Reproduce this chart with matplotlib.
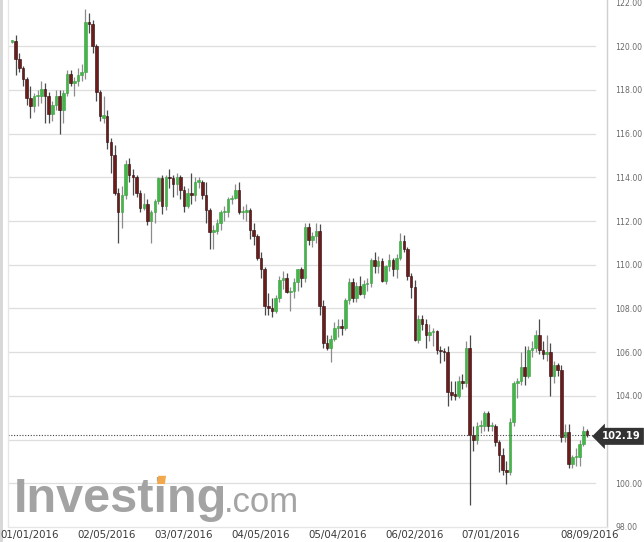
import matplotlib
matplotlib.use("Agg")
import matplotlib.pyplot as plt
import matplotlib.transforms as mtransforms
from matplotlib.patches import Rectangle, Polygon
import numpy as np

# ---- data: daily USD/JPY candles, 01/01/2016 .. 08/09/2016 ----
opens = [120.20, 120.22, 119.40, 119.00, 118.50, 117.65, 117.25, 117.70, 117.70, 118.05,
         117.70, 116.90, 117.30, 117.70, 117.10, 117.85, 118.75, 118.30, 118.40, 118.70,
         118.80, 121.10, 121.00, 120.00, 117.90, 116.70, 116.80, 115.60, 115.00, 113.30,
         112.40, 113.20, 114.60, 114.10, 114.00, 113.30, 112.60, 112.80, 112.00, 112.40,
         112.90, 113.95, 112.70, 114.00, 113.95, 113.70, 114.00, 113.40, 112.70, 113.30,
         113.20, 113.80, 113.80, 113.20, 112.50, 111.50, 111.55, 111.90, 112.40, 112.40,
         113.00, 113.05, 113.40, 112.40, 112.40, 112.50, 111.60, 111.30, 110.30, 109.80,
         108.10, 108.00, 107.90, 108.50, 109.30, 109.40, 108.75, 108.80, 109.20, 109.80,
         109.40, 111.75, 111.15, 111.30, 111.55, 108.10, 106.40, 106.20, 106.60, 107.10,
         107.20, 107.10, 108.40, 109.20, 108.50, 109.05, 108.65, 109.10, 109.15, 110.20,
         109.95, 110.15, 109.25, 109.95, 110.20, 109.80, 110.30, 111.10, 110.70, 109.50,
         109.00, 106.55, 107.50, 107.30, 106.80, 106.90, 106.95, 106.10, 106.05, 106.00,
         104.20, 104.05, 104.00, 104.70, 104.60, 106.20, 102.20, 102.00, 102.60, 102.60,
         103.20, 102.60, 102.60, 101.90, 101.30, 100.60, 100.50, 102.80, 104.60, 104.70,
         105.30, 104.90, 106.10, 106.20, 106.80, 106.10, 105.90, 106.00, 104.90, 105.40,
         105.20, 102.10, 102.35, 100.90, 101.20, 101.20, 101.80, 102.40]
highs = [120.30, 120.50, 119.70, 119.10, 118.60, 118.20, 117.85, 118.00, 118.40, 118.30,
         117.90, 117.50, 118.00, 118.00, 118.00, 118.90, 118.90, 118.60, 119.00, 119.20,
         121.70, 121.50, 121.20, 120.10, 118.00, 117.70, 117.10, 115.80, 115.50, 113.50,
         113.60, 114.80, 114.90, 114.40, 114.10, 113.40, 113.30, 113.00, 112.50, 113.00,
         114.00, 114.10, 114.10, 114.40, 114.10, 114.20, 114.10, 113.60, 113.50, 114.20,
         114.00, 114.00, 113.90, 113.80, 112.60, 111.80, 112.10, 112.50, 112.70, 113.10,
         113.20, 113.70, 113.80, 112.70, 112.80, 112.60, 111.90, 111.40, 110.60, 109.90,
         108.70, 108.50, 108.60, 109.50, 109.70, 109.60, 109.00, 109.40, 109.80, 109.90,
         111.90, 111.90, 111.50, 111.90, 111.85, 108.40, 106.80, 106.80, 107.40, 107.50,
         107.50, 108.50, 109.40, 109.40, 109.20, 109.50, 109.30, 109.40, 110.30, 110.60,
         110.40, 110.30, 110.00, 110.50, 110.30, 110.50, 111.45, 111.35, 110.80, 109.60,
         109.30, 107.70, 107.70, 107.50, 107.30, 107.10, 107.00, 106.30, 106.20, 106.30,
         104.70, 104.70, 104.90, 105.00, 106.50, 106.80, 102.60, 102.80, 102.90, 103.30,
         103.30, 102.80, 102.70, 102.00, 101.60, 101.00, 103.00, 104.70, 104.80, 106.00,
         106.30, 106.30, 106.50, 107.00, 107.50, 106.50, 106.80, 106.40, 105.60, 105.50,
         105.40, 102.70, 102.70, 101.30, 101.60, 102.00, 102.60, 102.50]
lows = [120.15, 118.70, 118.80, 118.20, 117.30, 116.70, 117.00, 117.25, 117.40, 116.50,
        116.50, 116.60, 117.10, 115.98, 116.50, 117.70, 118.20, 117.70, 118.20, 118.40,
        118.50, 120.60, 119.70, 117.50, 116.60, 116.50, 115.30, 114.20, 113.20, 110.99,
        111.70, 113.00, 113.80, 113.20, 113.10, 112.40, 112.50, 111.80, 110.99, 111.90,
        112.80, 112.30, 112.50, 113.50, 113.10, 113.20, 113.00, 112.40, 112.60, 112.80,
        112.90, 113.50, 113.00, 111.90, 110.70, 110.70, 111.40, 111.60, 112.00, 112.20,
        112.80, 113.00, 112.30, 112.10, 112.00, 111.20, 110.90, 110.20, 109.40, 107.70,
        107.70, 107.60, 107.80, 108.30, 108.90, 108.70, 107.90, 108.50, 108.80, 109.00,
        109.20, 110.90, 110.80, 111.00, 107.70, 106.20, 106.10, 105.55, 106.50, 106.70,
        106.80, 107.00, 108.20, 108.30, 108.30, 108.60, 108.50, 108.80, 109.00, 109.60,
        109.60, 109.20, 109.10, 109.70, 109.50, 109.40, 110.20, 110.60, 109.30, 108.50,
        106.50, 106.40, 107.00, 106.20, 106.50, 106.30, 105.90, 105.50, 105.60, 103.55,
        103.80, 103.80, 103.90, 104.30, 104.40, 99.00, 101.50, 101.80, 102.30, 102.40,
        102.40, 102.40, 101.70, 100.50, 100.40, 99.99, 100.40, 102.60, 103.90, 104.50,
        104.50, 104.80, 105.80, 106.00, 105.90, 105.70, 105.60, 104.00, 104.60, 104.90,
        101.90, 101.90, 100.70, 100.70, 100.80, 100.80, 101.70, 102.10]
closes = [120.22, 119.40, 119.00, 118.50, 117.65, 117.25, 117.70, 117.70, 118.05, 117.70,
          116.90, 117.30, 117.70, 117.10, 117.85, 118.75, 118.30, 118.40, 118.70, 118.80,
          121.10, 121.00, 120.00, 117.90, 116.80, 116.85, 115.60, 115.00, 113.30, 112.40,
          113.20, 114.60, 114.10, 114.00, 113.30, 112.60, 112.80, 112.00, 112.40, 112.90,
          113.95, 112.70, 114.00, 113.95, 113.70, 114.00, 113.40, 112.70, 113.30, 113.20,
          113.80, 113.80, 113.20, 112.50, 111.50, 111.55, 111.90, 112.40, 112.40, 113.00,
          113.05, 113.40, 112.40, 112.40, 112.50, 111.60, 111.30, 110.30, 109.80, 108.10,
          108.00, 107.90, 108.50, 109.30, 109.40, 108.75, 108.80, 109.20, 109.80, 109.40,
          111.75, 111.15, 111.30, 111.55, 108.10, 106.40, 106.20, 106.60, 107.10, 107.20,
          107.10, 108.40, 109.20, 108.50, 109.05, 108.65, 109.10, 109.15, 110.20, 109.95,
          110.15, 109.25, 109.95, 110.20, 109.80, 110.30, 111.10, 110.70, 109.50, 109.00,
          106.55, 107.50, 107.30, 106.80, 106.90, 106.95, 106.10, 106.05, 106.00, 104.20,
          104.05, 104.00, 104.70, 104.60, 106.20, 102.20, 102.00, 102.60, 102.60, 103.20,
          102.60, 102.60, 101.90, 101.30, 100.60, 100.50, 102.80, 104.60, 104.70, 105.30,
          104.90, 106.10, 106.20, 106.80, 106.10, 105.90, 106.00, 104.90, 105.40, 105.20,
          102.10, 102.35, 100.90, 101.20, 101.20, 101.80, 102.40, 102.19]

date_labels = ["01/01/2016", "02/05/2016", "03/07/2016", "04/05/2016",
               "05/04/2016", "06/02/2016", "07/01/2016", "08/09/2016"]
date_label_idx = [0, 25, 46, 67, 88, 109, 130, 157]
price_ticks = [98, 100, 102, 104, 106, 108, 110, 112, 114, 116, 118, 120, 122]
last_price = 102.19

# ---- figure ----
W, H = 644, 542
fig = plt.figure(figsize=(W / 100, H / 100), dpi=100)
fig.patch.set_facecolor("white")

ax_l, ax_r, ax_b, ax_t = 8, 607, 527, 0
ax = fig.add_axes([ax_l / W, (H - ax_b) / H, (ax_r - ax_l) / W, (ax_b - ax_t) / H])
ax.set_facecolor("white")

n = len(closes)
x = np.arange(n)
step = 3.662
x0pix = 12
ax.set_xlim((ax_l - x0pix) / step, (ax_r - x0pix) / step)
ppu = 21.9
y122 = 2.5
ax.set_ylim(122 - (ax_b - y122) / ppu, 122 + y122 / ppu)

grid_frac = (595 - ax_l) / (ax_r - ax_l)
for p in price_ticks:
    if 98 < p < 122:
        ax.axhline(p, xmin=0, xmax=grid_frac, color="#dedede", lw=0.9, zorder=0)

# candles
o = np.array(opens); h = np.array(highs); l = np.array(lows); c = np.array(closes)
up = c >= o
green_face, green_edge = "#43b649", "#3a9e3e"
red_face, red_edge = "#6d1b1b", "#2b0b0b"
wick_up, wick_dn = "#8c8c8c", "#4a4a4a"
ax.vlines(x[up], l[up], h[up], color=wick_up, lw=0.9, zorder=2)
ax.vlines(x[~up], l[~up], h[~up], color=wick_dn, lw=0.9, zorder=2)
body_lo = np.minimum(o, c)
body_h = np.maximum(np.abs(c - o), 0.07)
ax.bar(x[up], body_h[up], bottom=body_lo[up], width=0.7, color=green_face,
       edgecolor=green_edge, linewidth=0.4, zorder=3)
ax.bar(x[~up], body_h[~up], bottom=body_lo[~up], width=0.7, color=red_face,
       edgecolor=red_edge, linewidth=0.4, zorder=3)

# last price dotted line
ax.axhline(last_price, xmin=0, xmax=(598 - ax_l) / (ax_r - ax_l), color="#444444",
           lw=0.8, ls=(0, (1, 1.5)), zorder=4)

# spines
for s in ["top", "left", "bottom"]:
    ax.spines[s].set_visible(False)
ax.spines["right"].set_color("#cfcfcf")
ax.spines["right"].set_linewidth(1.0)

# y axis on right (102.00 is hidden behind the last-price marker)
ax.yaxis.tick_right()
ax.set_yticks(price_ticks)
ax.set_yticklabels(["" if abs(p - last_price) < 1 else f"{p:.2f}" for p in price_ticks],
                   fontsize=5.6, color="#6a6a6a", family="DejaVu Sans")
ax.tick_params(axis="y", length=0, pad=6)

# x axis labels
ax.set_xticks(date_label_idx)
ax.set_xticklabels(date_labels, fontsize=7.4, color="#3a3a3a", family="DejaVu Sans")
ax.tick_params(axis="x", length=0, pad=2.5)
for i, lab in enumerate(ax.get_xticklabels()):
    dx_px = 18 if i == 0 else 3
    lab.set_transform(lab.get_transform() +
                      mtransforms.ScaledTranslation(dx_px / 100, 0, fig.dpi_scale_trans))

# panel frame (light) on left/bottom
fig.add_artist(Rectangle((0, 0), 3 / W, 1, transform=fig.transFigure,
                         facecolor="#d8d8d8", edgecolor="none", zorder=0))
fig.add_artist(plt.Line2D([ax_l / W, ax_l / W], [(H - ax_b) / H, 1], transform=fig.transFigure,
                          color="#e6e6e6", lw=1.0))
fig.add_artist(plt.Line2D([ax_l / W, ax_r / W], [(H - ax_b) / H, (H - ax_b) / H],
                          transform=fig.transFigure, color="#e6e6e6", lw=1.0))

# last price box
ypix = y122 + (122 - last_price) * ppu
yf = (H - ypix) / H
fig.text(621 / W, yf, "102.19", fontsize=7.2, fontweight="bold", color="white",
         ha="center", va="center", family="DejaVu Sans",
         bbox=dict(boxstyle="larrow,pad=0.35", fc="#333333", ec="none"))

# watermark
base_y = 512
wm_kw = dict(fontsize=35, fontweight="bold", family="Liberation Sans", ha="left", va="baseline")
fig.text(14 / W, (H - base_y) / H, "Investing", color="#a3a3a3", **wm_kw)
fig.text(224 / W, (H - base_y) / H, ".com", fontsize=25, color="#a4a4a4",
         family="Liberation Sans", ha="left", va="baseline")

# orange accent on the dot of the second "i"
fig.canvas.draw()
r = fig.canvas.get_renderer()
tmp1 = fig.text(14 / W, 0.5, "Invest", **wm_kw)
tmp2 = fig.text(14 / W, 0.5, "Investi", **wm_kw)
x_a = tmp1.get_window_extent(r).x1
x_b = tmp2.get_window_extent(r).x1
tmp1.remove(); tmp2.remove()
em = 35 * 100 / 72
ylo = H - base_y + 0.575 * em
yhi = H - base_y + 0.745 * em
xc = (x_a + x_b) / 2
xa, xb = xc - 4.2, xc + 3.6
poly = Polygon([(xa / W, ylo / H), (xb / W, ylo / H), (xb / W + 1.2 / W, yhi / H),
                (xa / W + 1.2 / W, yhi / H)], closed=True, transform=fig.transFigure,
               facecolor="#f3a94b", edgecolor="none", zorder=5)
fig.add_artist(poly)

fig.savefig("out.png", dpi=100)
